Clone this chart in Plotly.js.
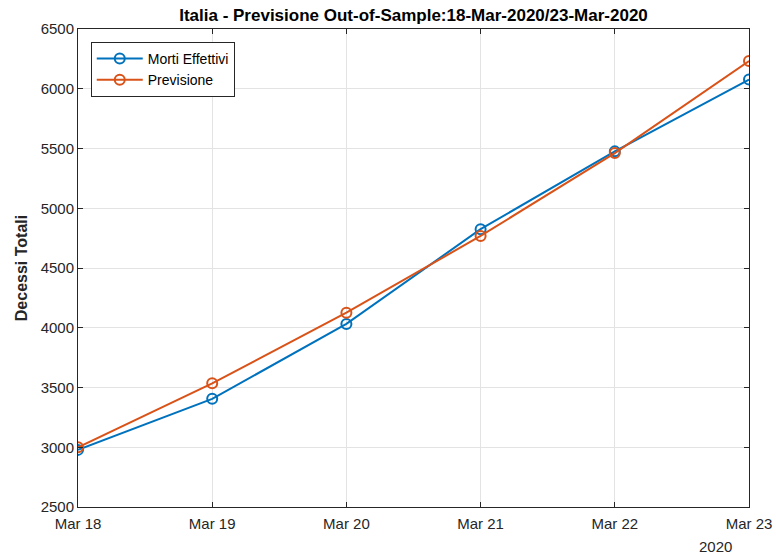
<!DOCTYPE html>
<html>
<head>
<meta charset="utf-8">
<script src="https://cdn.plot.ly/plotly-3.0.1.min.js"></script>
<style>html,body{margin:0;padding:0;background:#fff;}#chart{width:776px;height:554px;}</style>
</head>
<body>
<div id="chart"></div>
<script>
const dates = ['Mar 18', 'Mar 19', 'Mar 20', 'Mar 21', 'Mar 22', 'Mar 23'];
const actualDeaths = [2978, 3405, 4032, 4825, 5476, 6077];
const forecastDeaths = [3000, 3535, 4126, 4768, 5462, 6232];
const yTicks = [2500, 3000, 3500, 4000, 4500, 5000, 5500, 6000, 6500];
const yearLabel = '2020';

const FONT = 'Liberation Sans, Arial, Helvetica, sans-serif';
const AX = '#262626';

const traces = [
  {
    x: dates, y: actualDeaths, name: 'Morti Effettivi', type: 'scatter', mode: 'lines+markers',
    line: {color: '#0072BD', width: 2},
    marker: {symbol: 'circle-open', size: 10, color: '#0072BD', line: {width: 2, color: '#0072BD'}}
  },
  {
    x: dates, y: forecastDeaths, name: 'Previsione', type: 'scatter', mode: 'lines+markers',
    line: {color: '#D95319', width: 2},
    marker: {symbol: 'circle-open', size: 10, color: '#D95319', line: {width: 2, color: '#D95319'}}
  }
];

const layout = {
  width: 776, height: 554,
  margin: {l: 78, r: 27, t: 29, b: 47},
  paper_bgcolor: '#fff', plot_bgcolor: '#fff',
  font: {family: FONT, size: 15, color: AX},
  title: {text: '<b>Italia - Previsione Out-of-Sample:18-Mar-2020/23-Mar-2020</b>', font: {family: FONT, size: 17, color: '#000'}, xref: 'paper', x: 0.5, xanchor: 'center', yref: 'container', y: 0.973, yanchor: 'middle'},
  xaxis: {
    type: 'category', range: [0, 5], categoryarray: dates,
    showline: true, linecolor: AX, linewidth: 1, mirror: 'ticks',
    ticks: 'inside', ticklen: 5, tickcolor: AX, ticklabelstandoff: 3,
    showgrid: true, gridcolor: '#e3e3e3', gridwidth: 1,
    zeroline: false, tickfont: {family: FONT, size: 15, color: AX}
  },
  yaxis: {
    range: [2500, 6500], tickvals: yTicks, ticktext: yTicks.map(String),
    showline: true, linecolor: AX, linewidth: 1, mirror: 'ticks',
    ticks: 'inside', ticklen: 5, tickcolor: AX,
    showgrid: true, gridcolor: '#e3e3e3', gridwidth: 1,
    zeroline: false, tickfont: {family: FONT, size: 15, color: AX},
    title: {text: '<b>Decessi Totali</b>', font: {family: FONT, size: 16, color: AX}, standoff: 9}
  },
  legend: {
    x: 0.019, y: 0.973, xanchor: 'left', yanchor: 'top',
    bgcolor: '#fff', bordercolor: AX, borderwidth: 1,
    font: {family: FONT, size: 14, color: '#000'},
    tracegroupgap: 0, itemwidth: 46
  },
  showlegend: true,
  annotations: [{
    text: yearLabel, xref: 'paper', yref: 'paper', x: 1, y: 0, xanchor: 'right', yanchor: 'top',
    xshift: -15, yshift: -29, showarrow: false, font: {family: FONT, size: 15, color: AX}
  }]
};

Plotly.newPlot('chart', traces, layout, {displayModeBar: false, staticPlot: true});
</script>
</body>
</html>
